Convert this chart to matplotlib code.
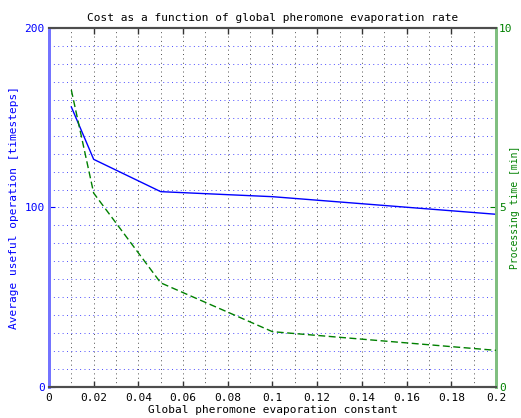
import numpy as np
import matplotlib
matplotlib.use('Agg')
import matplotlib.pyplot as plt

# evaporation constant vs. cost
evap_rate = [0.01, 0.02, 0.05, 0.1, 0.2]
useful_operation = [156, 126.8, 108.8, 106.0, 96.2]   # timesteps, left axis
processing_time = [8.27, 5.4, 2.9, 1.54, 1.02]        # minutes, right axis

x_ticks = [0, 0.02, 0.04, 0.06, 0.08, 0.1, 0.12, 0.14, 0.16, 0.18, 0.2]
x_labels = ['0', '0.02', '0.04', '0.06', '0.08', '0.1', '0.12', '0.14', '0.16', '0.18', '0.2']

plt.rcParams['font.family'] = 'DejaVu Sans Mono'
plt.rcParams['font.size'] = 7

fig = plt.figure(figsize=(5.21, 4.18), dpi=100)
ax = fig.add_axes([0.094, 0.0742, 0.858, 0.859])
ax2 = ax.twinx()

blue = (0, 0, 1)
green = (0, 0.5, 0)

ax.plot(evap_rate, useful_operation, color=blue, lw=1.0, zorder=3)
ax2.plot(evap_rate, processing_time, color=green, lw=1.0, linestyle=(0, (5, 2.5)), zorder=3)

ax.set_xlim(0, 0.2)
ax.set_ylim(0, 200)
ax2.set_ylim(0, 10)

ax.set_xticks(x_ticks)
ax.set_xticklabels(x_labels)
ax.set_xticks(np.arange(0, 0.2001, 0.01), minor=True)
ax.set_yticks([0, 100, 200])
ax.set_yticks(np.arange(0, 201, 10), minor=True)
ax2.set_yticks([0, 5, 10])
ax2.set_yticklabels(['0', '5', '10'])

# grid: gray dotted verticals, blue dotted horizontals
ax.grid(True, axis='x', which='both', color=(0.3, 0.3, 0.3), linestyle=(0, (1, 3.5)), lw=0.7)
ax.grid(True, axis='y', which='both', color=(0.3, 0.3, 1.0), linestyle=(0, (1, 3.5)), lw=0.7)

ax.tick_params(axis='x', which='major', direction='in', top=True, length=4, width=1,
               color=(0.2, 0.2, 0.2), labelcolor='black', pad=4, labelsize=8)
ax.tick_params(axis='x', which='minor', length=0)
ax.tick_params(axis='y', which='major', direction='in', length=4, color=blue, labelcolor=blue,
               pad=3, labelsize=8)
ax.tick_params(axis='y', which='minor', length=0)
ax2.tick_params(axis='y', direction='in', length=4, color=green, labelcolor=green, pad=2, labelsize=8)

for a in (ax, ax2):
    a.spines['top'].set_color((0.3, 0.3, 0.3))
    a.spines['bottom'].set_color((0.3, 0.3, 0.3))
    a.spines['top'].set_linewidth(1.5)
    a.spines['bottom'].set_linewidth(1.5)
    a.spines['left'].set_color((0.45, 0.45, 1.0))
    a.spines['left'].set_linewidth(2)
    a.spines['right'].set_color((0.5, 0.75, 0.5))
    a.spines['right'].set_linewidth(2)

ax.set_title('Cost as a function of global pheromone evaporation rate', fontsize=8, pad=5)
ax.set_xlabel('Global pheromone evaporation constant', fontsize=8, labelpad=2)
ax.set_ylabel('Average useful operation [timesteps]', color=blue, fontsize=8, labelpad=4)
ax2.set_ylabel('Processing time [min]', color=green, fontsize=7, rotation=90)
ax2.yaxis.set_label_coords(1.032, 0.5)

fig.savefig('out.png', dpi=100)
